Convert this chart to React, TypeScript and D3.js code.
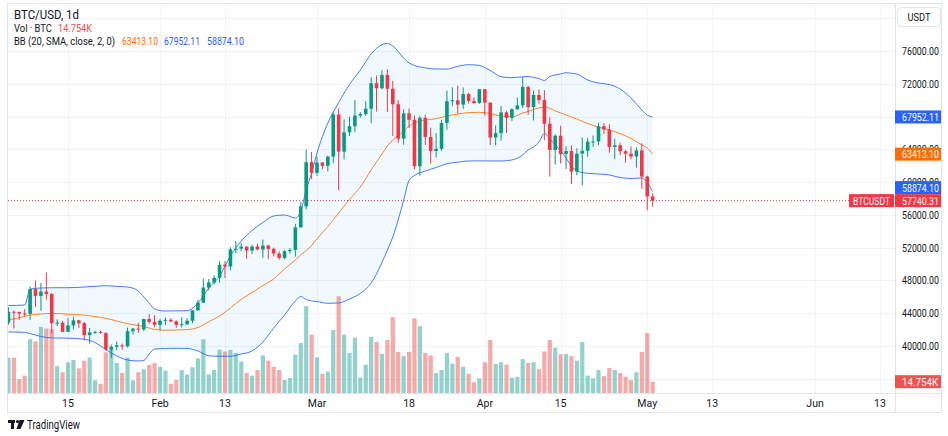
import React from "react";
import * as d3 from "d3";

// daily candles, 2024-01-04 .. 2024-05-02 (BTCUSDT, 1d)
const opens = [
  // Jan 4-31
  42849, 44180, 44162, 43958, 43929, 46951, 46110, 46654, 46339, 42782, 42847, 41733, 42511, 43137,
  42776, 41327, 41659, 41696, 41580, 39568, 39898, 40085, 39961, 41816, 42120, 42031, 43302, 42941,
  // Feb
  42580, 43082, 43200, 43011, 42583, 42658, 43084, 44342, 45294, 47132, 47751, 48300, 49917, 49699, 51795,
  51880, 52125, 51642, 52137, 51775, 52259, 51849, 51288, 50744, 51568, 51728, 54477, 57037, 62432,
  // Mar
  61130, 62387, 61988, 63113, 68245, 63725, 66074, 66824, 68124, 68313, 68956, 72078, 71453, 73072, 71388, 69499,
  65301, 68393, 67609, 61938, 67841, 65501, 63797, 64062, 67211, 69880, 69987, 69455, 70744, 69892, 69645,
  // Apr
  71333, 69702, 65446, 65981, 68508, 67838, 68897, 69361, 71620, 69146, 70631, 70006, 67116, 63925, 65662,
  63420, 63794, 61278, 63470, 63819, 64941, 64960, 66819, 66414, 64289, 64498, 63770, 63462, 63119, 63867,
  // May
  60672, 58253,
];
const highs = [
  44729, 44339, 44187, 44495, 47248, 47972, 47695, 48969, 46500, 43257, 43079, 43400, 43578, 43198,
  42930, 42196, 41872, 41881, 41689, 40176, 40555, 40300, 42246, 42200, 42842, 43305, 43882, 43745,
  43285, 43488, 43380, 43119, 43494, 43399, 44396, 45614, 48200, 48170, 48592, 50334, 50368, 52043, 52816,
  52575, 52166, 52357, 52488, 52985, 52366, 52020, 51548, 51698, 51950, 54910, 57588, 64000, 63676,
  63114, 62433, 63231, 68499, 69000, 67637, 67985, 69990, 68541, 69888, 72800, 73000, 73650, 73778, 72357, 70043,
  68889, 68957, 68124, 68100, 68240, 66650, 65974, 67624, 71150, 71561, 71769, 71552, 70916, 70355, 71366,
  71342, 69708, 66914, 69291, 68725, 69000, 70327, 72797, 71758, 71172, 71305, 71227, 67931, 65840, 66867,
  64365, 64486, 64125, 65450, 65419, 65695, 67233, 67199, 67075, 65297, 64791, 63923, 64370, 64228, 64734,
  60780, 58630,
];
const lows = [
  42613, 42126, 43200, 43626, 43175, 44748, 44300, 45678, 41500, 42436, 41720, 41719, 42050, 42200,
  40683, 40280, 41500, 41500, 39431, 38555, 39484, 39550, 39822, 41394, 41620, 41804, 42683, 42276,
  41884, 42546, 42880, 42222, 42258, 42574, 42788, 44330, 45243, 46800, 47558, 47710, 48300, 49225, 51314,
  51566, 50625, 51200, 51677, 50760, 50625, 50935, 50521, 50585, 51280, 50901, 54450, 56691, 60364,
  60777, 61561, 61321, 62300, 59005, 62787, 65603, 66082, 67862, 68088, 67194, 68620, 71333, 68555, 65630, 64780,
  64555, 66600, 61555, 60775, 64529, 62260, 63000, 63820, 66385, 69280, 68359, 68903, 69601, 69570, 69562,
  68110, 64533, 64493, 65064, 66011, 67447, 68824, 69043, 68210, 67518, 69567, 65086, 60660, 62134, 62274,
  61600, 59768, 60833, 59600, 63090, 64278, 64500, 65865, 63589, 62794, 63292, 62391, 62781, 61765, 59191,
  56552, 57000,
];
const closes = [
  44180, 44162, 43958, 43929, 46951, 46110, 46653, 46339, 42782, 42847, 41732, 42511, 43137, 42776,
  41327, 41659, 41696, 41580, 39568, 39898, 40085, 39961, 41816, 42120, 42031, 43302, 42941, 42580,
  43082, 43200, 43011, 42583, 42658, 43084, 44342, 45293, 47132, 47751, 48300, 49917, 49699, 51795, 51880,
  52124, 51642, 52137, 51774, 52258, 51849, 51288, 50744, 51568, 51728, 54476, 57037, 62432, 61130,
  62387, 61987, 63113, 68245, 63725, 66074, 66824, 68124, 68313, 68955, 72078, 71453, 73072, 71388, 69499, 65300,
  68393, 67610, 61937, 67840, 65501, 63797, 64062, 67211, 69880, 69987, 69455, 70744, 69892, 69645, 71333,
  69702, 65446, 65980, 68508, 67837, 68896, 69360, 71620, 69146, 70631, 70006, 67116, 63924, 65662, 63419,
  63793, 61277, 63470, 63819, 64941, 64960, 66819, 66414, 64289, 64498, 63770, 63461, 63118, 63866, 60672,
  58254, 57740.31,
];
// volume, thousands of BTC
const volumes = [
  46, 46, 18, 22.6, 70, 67, 86, 84, 83, 35, 27, 40, 43, 32, 42, 46, 16.5, 12, 53, 58, 39, 26, 46, 16.5, 27, 31, 36.5, 39,
  34, 29, 12, 17, 30, 24, 33.5, 45, 70, 24, 30, 56.5, 54, 56, 52, 41, 26, 22.6, 30, 49, 42, 34, 30, 17, 19.5, 50, 65, 113, 76,
  46.5, 25, 28, 82, 126, 76, 52, 72, 20, 37, 73, 66.5, 51, 69, 99, 53.5, 48, 53.5, 97, 87, 52, 49, 26, 30, 52, 38, 47, 34, 25, 14, 19,
  40, 69, 38, 40, 37, 20, 21, 44, 39, 40, 31, 54, 69, 59, 50.5, 51, 48, 42, 66.5, 22.6, 19, 30, 22, 32.6, 30, 26, 21, 17, 27, 53.5,
  78, 14.754,
];

// Bollinger bands (20, 2)
const bbDates = [
  "2024-01-04", "2024-01-07", "2024-01-08", "2024-01-10", "2024-01-12", "2024-01-15", "2024-01-18", "2024-01-20",
  "2024-01-22", "2024-01-24", "2024-01-26", "2024-01-28", "2024-01-29", "2024-01-30", "2024-01-31",
  "2024-02-02", "2024-02-04", "2024-02-06", "2024-02-08", "2024-02-10", "2024-02-12", "2024-02-14", "2024-02-16",
  "2024-02-18", "2024-02-20", "2024-02-22", "2024-02-24", "2024-02-26", "2024-02-27", "2024-02-28", "2024-02-29",
  "2024-03-01", "2024-03-03", "2024-03-05", "2024-03-07", "2024-03-09", "2024-03-11", "2024-03-13", "2024-03-14",
  "2024-03-15", "2024-03-17", "2024-03-18", "2024-03-19", "2024-03-21", "2024-03-23", "2024-03-25", "2024-03-27",
  "2024-03-29", "2024-03-31",
  "2024-04-02", "2024-04-04", "2024-04-06", "2024-04-08", "2024-04-09", "2024-04-10", "2024-04-11", "2024-04-12",
  "2024-04-13", "2024-04-14", "2024-04-15", "2024-04-16", "2024-04-17", "2024-04-18", "2024-04-20", "2024-04-22",
  "2024-04-24", "2024-04-26", "2024-04-28", "2024-04-30",
  "2024-05-01", "2024-05-02",
];
const bbUpper = [
  44940, 45000, 46950, 47080, 47110, 47110, 47200, 47280, 47360, 47280, 47200, 46710, 45980, 45250, 44510,
  44270, 44290, 44310, 45250, 47080, 48540, 50980, 52810, 54100, 55070, 55870, 55990, 55620, 56470, 59040, 61110,
  63550, 67210, 69710, 71910, 73680, 75630, 76780, 76920, 76610, 75150, 74540, 74230, 73950, 73800, 73800, 74130,
  74330, 74230,
  73620, 72860, 72750, 72850, 72900, 72770, 72640, 72400, 72890, 73070, 73200, 73350, 73280, 73190, 72460, 72090,
  71910, 71360, 70260, 68800,
  68190, 67952.11,
];
const bbBasis = [
  43190, 43610, 43780, 43900, 43980, 43880, 43770, 43590, 43380, 43050, 42720, 42510, 42380, 42190, 42010,
  41930, 41950, 42000, 42260, 42960, 43660, 44640, 45700, 46530, 47380, 48180, 49400, 50500, 51110, 51650, 52260,
  53090, 54580, 56230, 57900, 59400, 61480, 63430, 64410, 65140, 66180, 66850, 67210, 67580, 67730, 68070, 68310,
  68480, 68520,
  68360, 68070, 67980, 68430, 68620, 68860, 69050, 69190, 69000, 68680, 68450, 68190, 67950, 67700, 67150, 66720,
  66360, 65930, 65320, 64530,
  64160, 63413.1,
];
const bbLower = [
  41710, 41660, 41520, 41160, 40990, 40950, 40830, 40420, 39570, 38780, 38290, 38170, 38230, 39020, 39630,
  39700, 39720, 39700, 39390, 38810, 38740, 38750, 39020, 39390, 40490, 42200, 43780, 45490, 46040, 45670, 45490,
  45430, 45210, 45250, 45730, 46420, 47690, 50190, 51710, 53300, 57770, 60200, 60800, 61350, 61780, 62250, 62430,
  62580, 62590,
  62580, 62580, 62700, 63310, 63920, 64280, 64900, 65930, 65320, 64530, 63860, 62940, 61970, 61350, 61070, 60990,
  60870, 60560, 60440, 60500,
  59950, 58874.1,
];

const priceTicks = [40000, 44000, 48000, 52000, 56000, 60000, 64000, 68000, 72000, 76000];
const gridPrices = [36000, 40000, 44000, 48000, 52000, 56000, 60000, 64000, 68000, 72000, 76000, 80000];
const timeTicks = [
  "2024-01-15", "2024-02-01", "2024-02-13", "2024-03-01", "2024-03-18", "2024-04-01",
  "2024-04-15", "2024-05-01", "2024-05-13", "2024-06-01", "2024-06-13",
];
const timeLabels = ["15", "Feb", "13", "Mar", "18", "Apr", "15", "May", "13", "Jun", "13"];

const W = 948;
const H = 436;
const plot = { left: 8, right: 895, top: 4, bottom: 393 };
const font = "Roboto, 'Liberation Sans', sans-serif";
const ink = "#131722";
const upColor = "#089981";
const downColor = "#f23645";
const volUp = "rgba(38,166,154,0.5)";
const volDown = "rgba(239,83,80,0.5)";
const blue = "#2962ff";
const orange = "#ff6d00";
const volRed = "#ef5350";

const utc = (s: string) => new Date(s + "T00:00:00Z");

// the screenshot's type is narrow; squeeze each label to its measured width
const Label: React.FC<{
  x: number;
  y: number;
  w: number;
  size?: number;
  fill?: string;
  anchor?: "start" | "middle" | "end";
  children: React.ReactNode;
}> = ({ x, y, w, size = 11, fill = ink, anchor = "start", children }) => (
  <text
    x={x}
    y={y}
    fontSize={size}
    fill={fill}
    textAnchor={anchor}
    textLength={w}
    lengthAdjust="spacingAndGlyphs"
  >
    {children}
  </text>
);

const App: React.FC = () => {
  const days = d3.utcDay.range(utc("2024-01-04"), utc("2024-05-03"));

  const x = d3.scaleUtc().domain([utc("2024-01-15"), utc("2024-06-13")]).range([68, 880]);
  const y = d3.scaleLinear().domain([40000, 76000]).range([346, 51]);
  const yVol = d3.scaleLinear().domain([0, 125]).range([plot.bottom, plot.bottom - 96]);

  const bb = bbDates.map((s, i) => ({ t: utc(s), u: bbUpper[i], m: bbBasis[i], l: bbLower[i] }));
  type BB = (typeof bb)[number];
  const bandLine = (k: "u" | "m" | "l") =>
    d3
      .line<BB>()
      .x((d) => x(d.t))
      .y((d) => y(d[k]))
      .curve(d3.curveMonotoneX)(bb) || "";
  const bandArea =
    d3
      .area<BB>()
      .x((d) => x(d.t))
      .y0((d) => y(d.l))
      .y1((d) => y(d.u))
      .curve(d3.curveMonotoneX)(bb) || "";

  const bodyW = 3.6;
  const volW = 4.2;
  const n = closes.length;
  const last = closes[n - 1];
  const lastVol = volumes[n - 1];
  const fmt = (v: number) => v.toFixed(2);

  // right-axis badges, pushed apart like the original
  const badges = [
    { v: bbUpper[bbUpper.length - 1], color: blue },
    { v: bbBasis[bbBasis.length - 1], color: orange },
    { v: bbLower[bbLower.length - 1], color: blue },
    { v: last, color: downColor },
  ]
    .map((b) => ({ ...b, cy: y(b.v) }))
    .sort((a, b) => b.cy - a.cy);
  for (let i = 1; i < badges.length; i++) {
    if (badges[i - 1].cy - badges[i].cy < 13) badges[i].cy = badges[i - 1].cy - 13;
  }

  return (
    <div style={{ position: "absolute", left: 0, top: 0, width: W, height: H, background: "#fff" }}>
      <svg width={W} height={H} style={{ display: "block", fontFamily: font }}>
        <defs>
          <clipPath id="plotClip">
            <rect x={plot.left} y={plot.top} width={plot.right - plot.left} height={plot.bottom - plot.top} />
          </clipPath>
        </defs>
        <rect x={0} y={0} width={W} height={H} fill="#fff" />

        {/* grid */}
        <g stroke="#f0f3fa" strokeWidth={1}>
          {gridPrices.map((p) => (
            <line key={p} x1={plot.left} x2={plot.right} y1={Math.round(y(p)) + 0.5} y2={Math.round(y(p)) + 0.5} />
          ))}
          {timeTicks.map((t) => (
            <line key={t} x1={Math.round(x(utc(t))) + 0.5} x2={Math.round(x(utc(t))) + 0.5} y1={plot.top} y2={plot.bottom} />
          ))}
        </g>

        <g clipPath="url(#plotClip)">
          {/* volume */}
          {days.map((d, i) => (
            <rect
              key={"v" + i}
              x={x(d) - volW / 2}
              y={yVol(volumes[i])}
              width={volW}
              height={plot.bottom - yVol(volumes[i])}
              fill={closes[i] >= opens[i] ? volUp : volDown}
            />
          ))}

          {/* bollinger bands */}
          <path d={bandArea} fill="rgba(33,150,243,0.06)" />
          <path d={bandLine("u")} fill="none" stroke={blue} strokeWidth={1} opacity={0.85} />
          <path d={bandLine("l")} fill="none" stroke={blue} strokeWidth={1} opacity={0.85} />
          <path d={bandLine("m")} fill="none" stroke={orange} strokeWidth={1} opacity={0.85} />

          {/* candles */}
          {days.map((d, i) => {
            const up = closes[i] >= opens[i];
            const c = up ? upColor : downColor;
            const cx = x(d);
            const top = y(Math.max(opens[i], closes[i]));
            const bot = y(Math.min(opens[i], closes[i]));
            return (
              <g key={"c" + i}>
                <line x1={cx} x2={cx} y1={y(highs[i])} y2={y(lows[i])} stroke={c} strokeWidth={1} />
                <rect x={cx - bodyW / 2} y={top} width={bodyW} height={Math.max(1, bot - top)} fill={c} />
              </g>
            );
          })}

          {/* last price line */}
          <line
            x1={plot.left}
            x2={plot.right}
            y1={y(last)}
            y2={y(last)}
            stroke={downColor}
            strokeWidth={1}
            strokeDasharray="1 2"
          />
        </g>

        {/* frame */}
        <g stroke="#e0e3eb" strokeWidth={1} fill="none">
          <rect x={7.5} y={3.5} width={934} height={409} />
          <line x1={plot.right + 0.5} x2={plot.right + 0.5} y1={3.5} y2={412.5} />
          <line x1={7.5} x2={941.5} y1={plot.bottom + 0.5} y2={plot.bottom + 0.5} />
        </g>

        {/* price axis */}
        {priceTicks.map((p) => (
          <Label key={p} x={902} y={y(p) + 4} w={37}>
            {fmt(p)}
          </Label>
        ))}
        <rect x={897.5} y={7.5} width={43} height={19} rx={4} fill="#fff" stroke="#e0e3eb" />
        <Label x={919} y={21} w={23} size={10.5} anchor="middle">
          USDT
        </Label>

        {/* badges */}
        {badges.map((b, i) => (
          <g key={"b" + i}>
            <rect x={895} y={b.cy - 6.5} width={46} height={13} fill={b.color} />
            <Label x={902} y={b.cy + 4} w={37} fill="#fff">
              {fmt(b.v)}
            </Label>
          </g>
        ))}
        <rect x={849} y={y(last) - 6.5} width={45} height={13} fill={downColor} />
        <Label x={871.5} y={y(last) + 4} w={37} fill="#fff" anchor="middle">
          BTCUSDT
        </Label>
        <rect x={895} y={yVol(lastVol) - 6.5} width={46} height={13} fill={volRed} />
        <Label x={902} y={yVol(lastVol) + 4} w={36} fill="#fff">
          {lastVol.toFixed(3)}K
        </Label>

        {/* time axis */}
        <g fontSize={10.5} fill={ink} textAnchor="middle">
          {timeTicks.map((t, i) => (
            <text key={t} x={x(utc(t))} y={407}>
              {timeLabels[i]}
            </text>
          ))}
        </g>

        {/* legend */}
        <Label x={14} y={19} w={65} size={13}>
          BTC/USD, 1d
        </Label>
        <Label x={14} y={32} w={38}>
          Vol · BTC
        </Label>
        <Label x={58} y={32} w={34} fill={volRed}>
          {lastVol.toFixed(3)}K
        </Label>
        <Label x={14} y={45} w={101}>
          BB (20, SMA, close, 2, 0)
        </Label>
        <Label x={122} y={45} w={36} fill={orange}>
          {fmt(bbBasis[bbBasis.length - 1])}
        </Label>
        <Label x={164} y={45} w={36} fill={blue}>
          {fmt(bbUpper[bbUpper.length - 1])}
        </Label>
        <Label x={207} y={45} w={37} fill={blue}>
          {fmt(bbLower[bbLower.length - 1])}
        </Label>

        {/* TradingView mark */}
        <g fill={ink}>
          <rect x={8} y={420} width={7} height={3} />
          <rect x={11} y={420} width={3} height={9} />
          <circle cx={17.5} cy={421.5} r={1.6} />
          <polygon points="19.5,420 24.5,420 20.5,429 16.5,429" />
        </g>
        <Label x={27} y={429} w={53} size={12}>
          TradingView
        </Label>
      </svg>
    </div>
  );
};

export default App;
